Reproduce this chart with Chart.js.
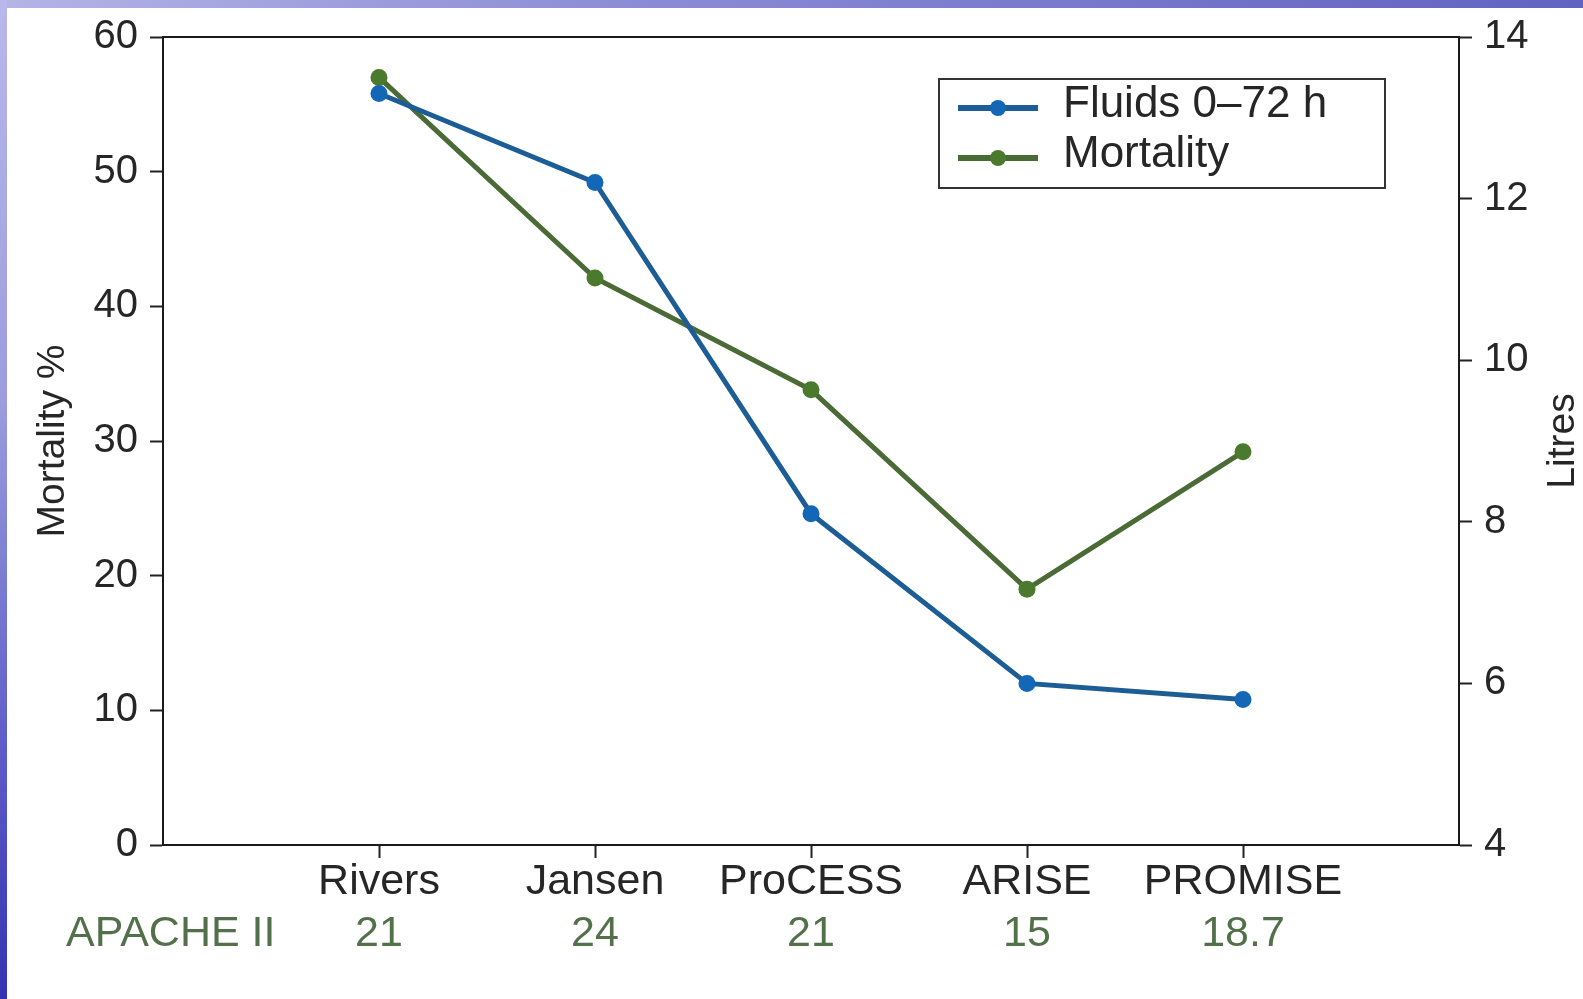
<!DOCTYPE html>
<html><head><meta charset="utf-8">
<script src="https://cdn.jsdelivr.net/npm/chart.js@4.4.1/dist/chart.umd.min.js"></script>
<style>
html,body{margin:0;padding:0;background:#fff;}
body{width:1583px;height:999px;position:relative;overflow:hidden;}
#top{position:absolute;left:0;top:0;width:1583px;height:8px;background:linear-gradient(to right,#b4b4e6,#8c8cd6 40%,#6262c2);}
#left{position:absolute;left:0;top:0;width:7px;height:999px;background:linear-gradient(to bottom,#b8b8ea,#9c9cde 40%,#5c5cc8 75%,#3434b2);}
#wrap{position:absolute;left:7px;top:8px;width:1576px;height:991px;background:#fff;}
</style></head>
<body><div id="top"></div><div id="left"></div><div id="wrap"><canvas id="c" width="1576" height="991"></canvas></div>
<script>
// ---- data ----
const studies = ['Rivers', 'Jansen', 'ProCESS', 'ARISE', 'PROMISE'];
const apacheII = ['21', '24', '21', '15', '18.7'];
const mortality = [57, 42.1, 33.8, 19, 29.2];      // Mortality % (left axis)
const fluids = [13.3, 12.2, 8.1, 6.0, 5.8];        // Litres, fluids 0–72 h (right axis)
const seriesNames = ['Fluids 0–72 h', 'Mortality'];
const apacheLabel = 'APACHE II';
const leftTitle = 'Mortality %';
const rightTitle = 'Litres';

// ---- styles ----
const FONT = "'Liberation Sans', Arial, Helvetica, sans-serif";
const BLUE_LINE = '#1d5d95', BLUE_PT = '#1466b6';
const GREEN_LINE = '#4a6b35', GREEN_PT = '#4b7a2f';
const INK = '#262626';
const APACHE_COL = '#52704a';

const xLabels = [''].concat(studies, ['']);
const pad = arr => [null].concat(arr, [null]);
const lastIdx = xLabels.length - 1;

const extras = {
  id: 'extras',
  afterDraw(chart) {
    const ctx = chart.ctx;
    const x = chart.scales.x;
    const ca = chart.chartArea;
    ctx.save();
    // APACHE II row
    ctx.font = '43px ' + FONT;
    ctx.fillStyle = APACHE_COL;
    ctx.textBaseline = 'alphabetic';
    ctx.textAlign = 'left';
    ctx.fillText(apacheLabel, 59, 938);
    ctx.textAlign = 'center';
    apacheII.forEach((v, i) => {
      ctx.fillText(v, x.getPixelForValue(i + 1), 938);
    });
    // right axis title, reading upward
    ctx.save();
    ctx.translate(1556, (ca.top + ca.bottom) / 2);
    ctx.rotate(-Math.PI / 2);
    ctx.font = '39px ' + FONT;
    ctx.fillStyle = INK;
    ctx.textAlign = 'center';
    ctx.textBaseline = 'middle';
    ctx.fillText(rightTitle, 0, 0);
    ctx.restore();
    // legend box
    const lx = ca.left + 776, ly = ca.top + 42, lw = 446, lh = 109;
    ctx.fillStyle = '#fff';
    ctx.fillRect(lx, ly, lw, lh);
    ctx.strokeStyle = '#333';
    ctx.lineWidth = 2;
    ctx.strokeRect(lx, ly, lw, lh);
    const ds = chart.data.datasets;
    const rows = [ly + 29, ly + 79];
    ds.forEach((d, i) => {
      const y = rows[i];
      ctx.strokeStyle = d.borderColor;
      ctx.lineWidth = 6;
      ctx.beginPath();
      ctx.moveTo(lx + 19, y);
      ctx.lineTo(lx + 99, y);
      ctx.stroke();
      ctx.fillStyle = d.pointBackgroundColor;
      ctx.beginPath();
      ctx.arc(lx + 59, y, 8, 0, Math.PI * 2);
      ctx.fill();
      ctx.fillStyle = INK;
      ctx.font = '44px ' + FONT;
      ctx.textAlign = 'left';
      ctx.textBaseline = 'middle';
      ctx.fillText(d.label, lx + 124, y - 3);
    });
    ctx.restore();
  }
};

const tickGrid = {
  display: true,
  drawOnChartArea: false,
  drawTicks: true,
  tickLength: 13,
  tickWidth: 2,
  tickColor: '#222'
};

new Chart(document.getElementById('c'), {
  type: 'line',
  data: {
    labels: xLabels,
    datasets: [
      {
        label: seriesNames[0],
        data: pad(fluids),
        yAxisID: 'y2',
        borderColor: BLUE_LINE,
        backgroundColor: BLUE_PT,
        pointBackgroundColor: BLUE_PT,
        pointBorderWidth: 0,
        pointRadius: 8.5,
        borderWidth: 5,
        tension: 0
      },
      {
        label: seriesNames[1],
        data: pad(mortality),
        yAxisID: 'y',
        borderColor: GREEN_LINE,
        backgroundColor: GREEN_PT,
        pointBackgroundColor: GREEN_PT,
        pointBorderWidth: 0,
        pointRadius: 8.5,
        borderWidth: 5,
        tension: 0
      }
    ]
  },
  options: {
    responsive: false,
    animation: false,
    layout: { padding: { top: 29, left: 0, right: 0, bottom: 0 } },
    plugins: { legend: { display: false }, tooltip: { enabled: false } },
    scales: {
      x: {
        position: 'bottom',
        grid: Object.assign({}, tickGrid, {
          tickColor: c => (c.index === 0 || c.index === lastIdx) ? 'rgba(0,0,0,0)' : '#222'
        }),
        border: { display: true, color: '#1a1a1a', width: 2 },
        ticks: { color: INK, font: { family: FONT, size: 43, lineHeight: 1.12 }, padding: 0, maxRotation: 0, autoSkip: false },
        afterFit: s => { s.height = 154; s.paddingLeft = 0; s.paddingRight = 0; }
      },
      xTop: {
        type: 'category',
        position: 'top',
        display: true,
        grid: { display: false },
        border: { display: true, color: '#1a1a1a', width: 2 },
        ticks: { display: false },
        afterFit: s => { s.height = 0; s.paddingLeft = 0; s.paddingRight = 0; }
      },
      y: {
        position: 'left',
        min: 0, max: 60,
        ticks: { stepSize: 10, color: INK, font: { family: FONT, size: 40 }, padding: 12 },
        grid: tickGrid,
        border: { display: true, color: '#1a1a1a', width: 2 },
        title: { display: true, text: leftTitle, color: INK, font: { family: FONT, size: 39, lineHeight: 1.2 }, padding: { top: 23, bottom: 0 } },
        afterFit: s => { s.width = 156; s.paddingTop = 0; s.paddingBottom = 0; }
      },
      y2: {
        position: 'right',
        min: 4, max: 14,
        ticks: { stepSize: 2, color: INK, font: { family: FONT, size: 40 }, padding: 12 },
        grid: tickGrid,
        border: { display: true, color: '#1a1a1a', width: 2 },
        afterFit: s => { s.width = 124; s.paddingTop = 0; s.paddingBottom = 0; }
      }
    }
  },
  plugins: [extras]
});
</script>
</body></html>
